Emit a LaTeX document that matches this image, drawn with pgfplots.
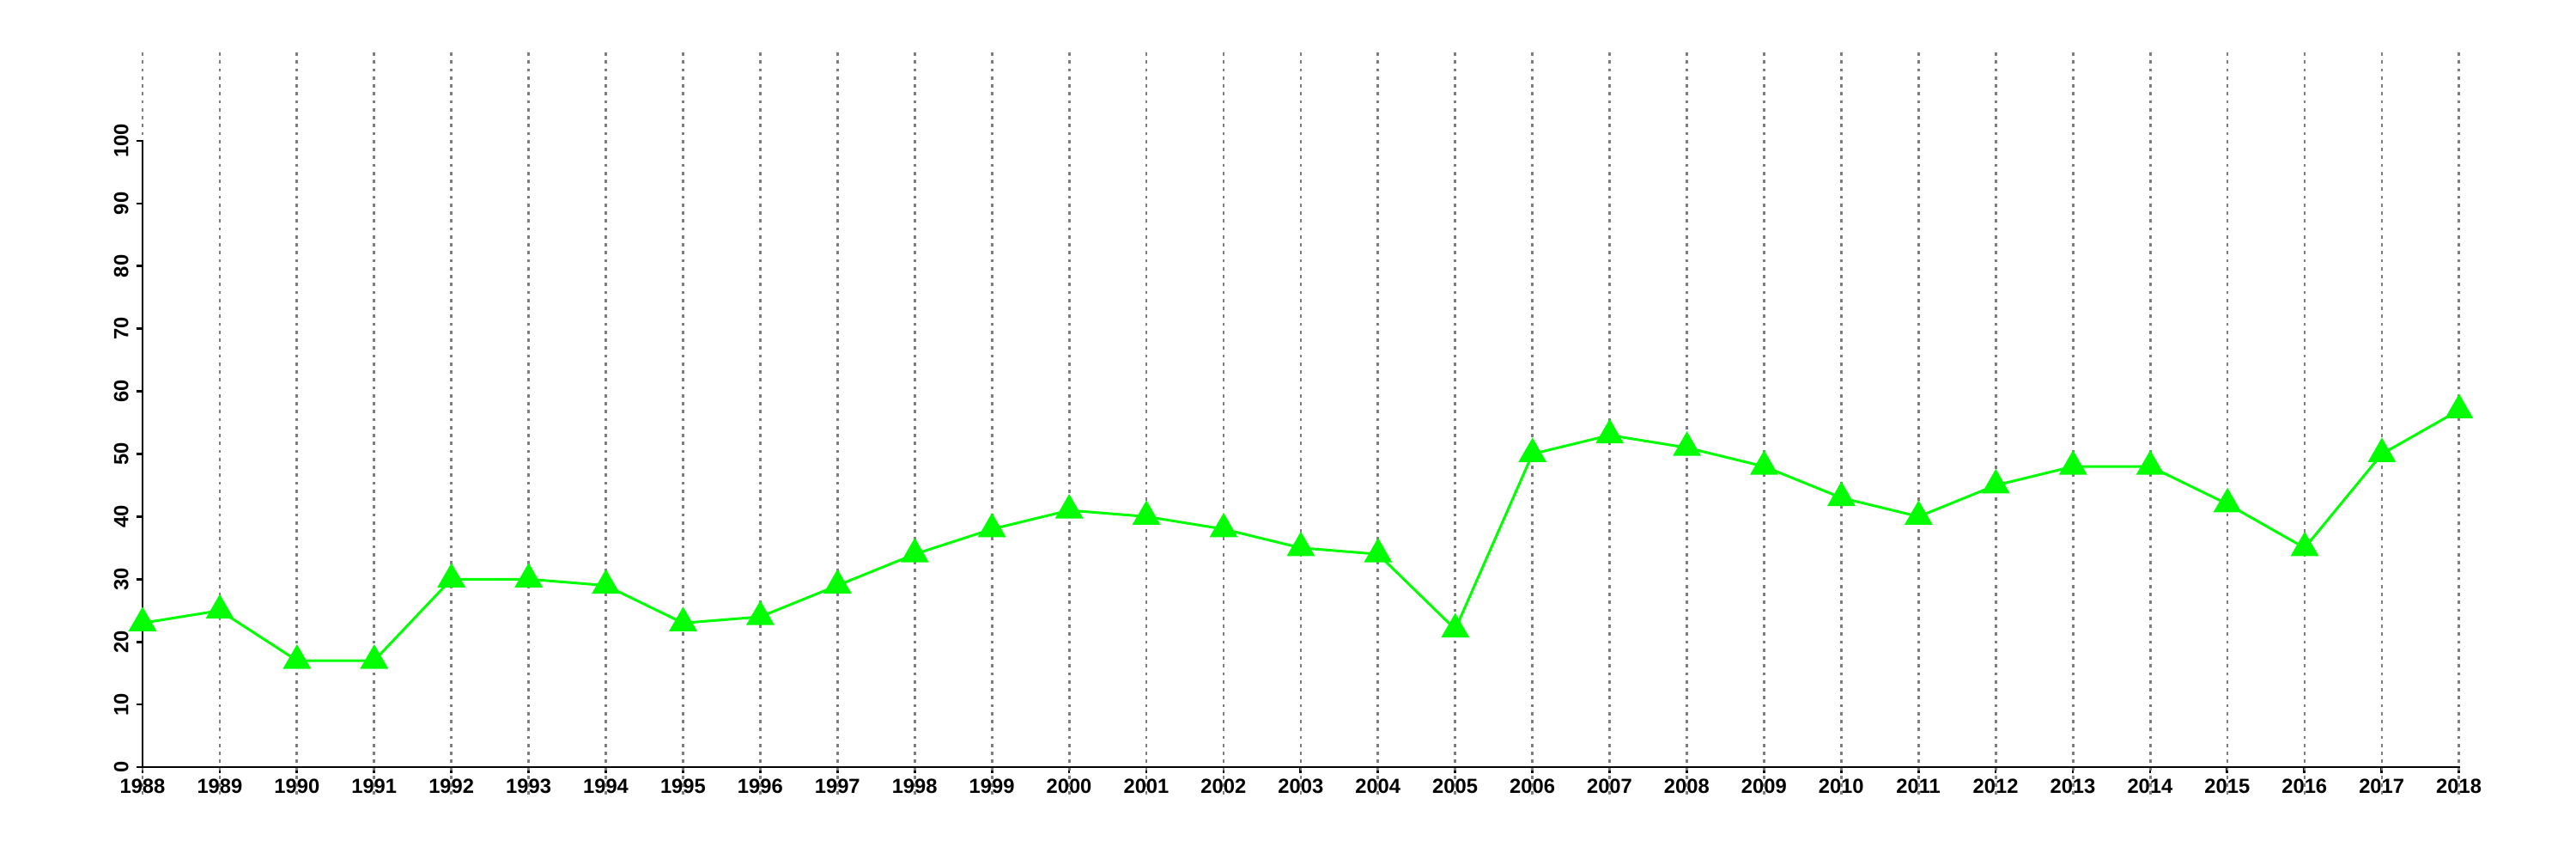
\documentclass[border=0pt]{standalone}
\usepackage{pgfplots}
\pgfplotsset{compat=1.18}
\usepackage{fontspec}
\setmainfont{Liberation Sans}
\definecolor{lgreen}{RGB}{0,255,0}
\definecolor{gridgray}{RGB}{125,125,125}
\begin{document}
\begin{tikzpicture}
\begin{axis}[
    scale only axis,
    width=1079.2pt, height=291.6pt,
    xmin=1988, xmax=2018, ymin=0, ymax=100,
    clip=false,
    axis x line*=bottom, axis y line*=left,
    axis line style={line width=1.1pt},
    xtick={1988,1989,...,2018},
    ytick={0,10,...,100},
    x tick label style={/pgf/number format/1000 sep={}, yshift=1pt},
    tick align=outside,
    major tick length=3pt,
    tick style={line width=1.1pt, black},
    /pgf/number format/assume math mode=true,
    tick label style={font=\bfseries\fontsize{9.5}{10}\selectfont},
    yticklabel style={rotate=90, anchor=south},
]
% dotted vertical lines across the whole plot region
\pgfplotsinvokeforeach{1988,1989,...,2018}{
  \draw[gridgray, line width=1.1pt, dash pattern=on 1.5pt off 2.2pt]
    (axis cs:#1,-4.4) -- (axis cs:#1,114.4);
}
% axis lines again, over the dotted lines
\draw[black, line width=1.1pt, line cap=rect]
  (axis cs:1988,100) -- (axis cs:1988,0) -- (axis cs:2018,0);
\addplot[lgreen, line width=1.2pt, mark=triangle*, mark size=6.4pt,
         mark options={solid, fill=lgreen, draw=lgreen}]
  coordinates {
  (1988,23) (1989,25) (1990,17) (1991,17) (1992,30) (1993,30) (1994,29)
  (1995,23) (1996,24) (1997,29) (1998,34) (1999,38) (2000,41) (2001,40)
  (2002,38) (2003,35) (2004,34) (2005,22) (2006,50) (2007,53) (2008,51)
  (2009,48) (2010,43) (2011,40) (2012,45) (2013,48) (2014,48) (2015,42)
  (2016,35) (2017,50) (2018,57)
  };
\coordinate (bl) at (axis cs:1986.154,-14.68);
\coordinate (tr) at (axis cs:2019.514,122.5);
\end{axis}
\pgfresetboundingbox
\useasboundingbox (bl) rectangle (tr);
\end{tikzpicture}
\end{document}
